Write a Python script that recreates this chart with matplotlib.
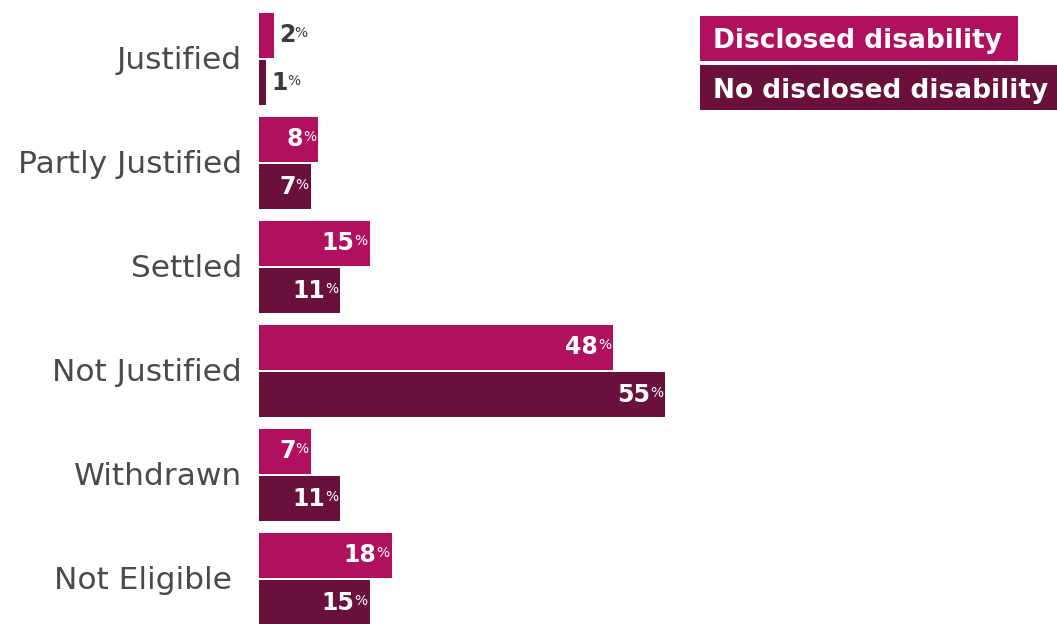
import matplotlib.pyplot as plt
from matplotlib.patches import Rectangle

categories = ['Justified', 'Partly Justified', 'Settled', 'Not Justified',
              'Withdrawn', 'Not Eligible ']
disclosed = [2, 8, 15, 48, 7, 18]
not_disclosed = [1, 7, 11, 55, 11, 15]
series_names = ['Disclosed disability', 'No disclosed disability']

PINK = '#B0105E'
PLUM = '#6A103D'
LABEL_GREY = '#4a4a4a'
VALUE_GREY = '#3c3c3c'

W, H = 1057, 624
fig = plt.figure(figsize=(W / 100, H / 100), dpi=100)
ax = fig.add_axes([259 / W, 0, 1 - 259 / W, 1])
ax.set_xlim(0, (W - 259) / 7.38)
ax.set_ylim(len(categories) - 0.567, -0.567)
ax.axis('off')

bar_h = 0.433
offset = 0.228


def value_label(v, y):
    # big bold number followed by a small percent sign
    if v >= 5:
        pct = ax.annotate('%', xy=(v, y), xytext=(-2, 2), textcoords='offset pixels',
                          ha='right', va='center', fontsize=10, color='white')
        ax.annotate(str(v), xy=(0, 0.5), xycoords=pct, xytext=(0, -2),
                    textcoords='offset pixels', ha='right', va='center',
                    fontsize=17, fontweight='bold', color='white')
    else:
        num = ax.annotate(str(v), xy=(v, y), xytext=(5, 0), textcoords='offset pixels',
                          ha='left', va='center', fontsize=17, fontweight='bold',
                          color=VALUE_GREY)
        ax.annotate('%', xy=(1, 0.5), xycoords=num, xytext=(-1, 2),
                    textcoords='offset pixels', ha='left', va='center',
                    fontsize=10, color=VALUE_GREY)


for i, name in enumerate(categories):
    y1, y2 = i - offset, i + offset
    ax.barh(y1, disclosed[i], height=bar_h, color=PINK, linewidth=0)
    ax.barh(y2, not_disclosed[i], height=bar_h, color=PLUM, linewidth=0)
    value_label(disclosed[i], y1)
    value_label(not_disclosed[i], y2)
    ax.annotate(name, xy=(0, i), xytext=(-17, -10), textcoords='offset pixels',
                ha='right', va='baseline', fontsize=22.5, color=LABEL_GREY,
                annotation_clip=False)

# legend drawn as coloured boxes with white text
fig.canvas.draw()
renderer = fig.canvas.get_renderer()
for k, (label, col) in enumerate(zip(series_names, [PINK, PLUM])):
    top = 16 + k * 49
    t = fig.text(713 / W, 1 - (top + 22.5) / H, label, ha='left', va='center_baseline',
                 fontsize=19, fontweight='bold', color='white', zorder=3)
    bb = t.get_window_extent(renderer)
    x0, x1 = 700, bb.x1 + 16
    fig.patches.append(Rectangle((x0 / W, 1 - (top + 45) / H), (x1 - x0) / W, 45 / H,
                                 transform=fig.transFigure, facecolor=col,
                                 edgecolor='none', zorder=2))

fig.savefig('out.png', dpi=100)
